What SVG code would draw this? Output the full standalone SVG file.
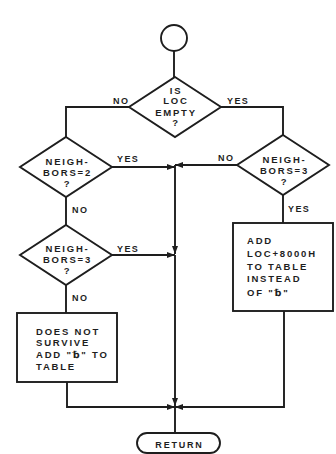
<svg xmlns="http://www.w3.org/2000/svg" width="336" height="454" viewBox="0 0 336 454">
<style>
.s{fill:none;stroke:#1e1e1e;stroke-width:1.9}
.t{font-family:"Liberation Sans","DejaVu Sans",sans-serif;font-size:9.5px;font-weight:bold;fill:#1e1e1e;letter-spacing:1.8px}
.c{text-anchor:middle}
.l{font-family:"Liberation Sans","DejaVu Sans",sans-serif;font-size:9px;font-weight:bold;fill:#1e1e1e;letter-spacing:1.4px}
</style>
<defs>
<marker id="a" viewBox="0 0 8 6" refX="8" refY="3" markerWidth="8" markerHeight="6" markerUnits="userSpaceOnUse" orient="auto">
<path d="M0,0 L8,3 L0,6 Z" fill="#1e1e1e"/>
</marker>
</defs>
<rect width="336" height="454" fill="#fff"/>
<g id="connectors">
<path class="s" d="M174,51 V77"/>
<path class="s" d="M129,107 H66 V137"/>
<path class="s" d="M221,107 H283 V135"/>
<path class="s" d="M112,167 H175" marker-end="url(#a)"/>
<path class="s" d="M237,165 H175" marker-end="url(#a)"/>
<path class="s" d="M175,165 V254" marker-end="url(#a)"/>
<path class="s" d="M66,197 V225"/>
<path class="s" d="M112,255 H175" marker-end="url(#a)"/>
<path class="s" d="M66,285 V313"/>
<path class="s" d="M283,195 V223"/>
<path class="s" d="M175,255 V406" marker-end="url(#a)"/>
<path class="s" d="M67,382 V407 H175" marker-end="url(#a)"/>
<path class="s" d="M284,311 V407 H175" marker-end="url(#a)"/>
<path class="s" d="M175,407 V433"/>
<text class="l" x="113" y="104">NO</text>
<text class="l" x="227" y="104">YES</text>
<text class="l" x="117" y="161.5">YES</text>
<text class="l" x="117" y="251.5">YES</text>
<text class="l" x="72" y="212.5">NO</text>
<text class="l" x="72" y="300.5">NO</text>
<text class="l" x="218" y="160.5">NO</text>
<text class="l" x="288" y="211.5">YES</text>
</g>
<g id="start">
<circle class="s" cx="174" cy="38" r="13"/>
</g>
<g id="loc-empty">
<polygon class="s" points="175,77 221,107 175,137 129,107"/>
<text class="t c" x="176" y="93.5">IS</text>
<text class="t c" x="176" y="104">LOC</text>
<text class="t c" x="176" y="115.5">EMPTY</text>
<text class="t c" x="176" y="126">?</text>
</g>
<g id="neighbors2">
<polygon class="s" points="66,137 112,167 66,197 20,167"/>
<text class="t c" x="67.5" y="164.5">NEIGH-</text>
<text class="t c" x="67.5" y="175.5">BORS=2</text>
<text class="t c" x="67.5" y="186.5">?</text>
</g>
<g id="neighbors3-left">
<polygon class="s" points="66,225 112,255 66,285 20,255"/>
<text class="t c" x="67.5" y="251.5">NEIGH-</text>
<text class="t c" x="67.5" y="262.5">BORS=3</text>
<text class="t c" x="67.5" y="274">?</text>
</g>
<g id="neighbors3-right">
<polygon class="s" points="283,135 329,165 283,195 237,165"/>
<text class="t c" x="284.5" y="162.5">NEIGH-</text>
<text class="t c" x="284.5" y="173.5">BORS=3</text>
<text class="t c" x="284.5" y="185">?</text>
</g>
<g id="does-not-survive">
<rect class="s" x="17" y="313" width="100" height="69"/>
<text class="t" x="36" y="334.5">DOES NOT</text>
<text class="t" x="36" y="345.5">SURVIVE</text>
<text class="t" x="36" y="357.5">ADD "␢" TO</text>
<text class="t" x="36" y="369.5">TABLE</text>
</g>
<g id="add-loc">
<rect class="s" x="233" y="223" width="100" height="88"/>
<text class="t" x="247" y="243.5">ADD</text>
<text class="t" x="247" y="256.5">LOC+8000H</text>
<text class="t" x="247" y="269.5">TO TABLE</text>
<text class="t" x="247" y="281.5">INSTEAD</text>
<text class="t" x="247" y="295.5">OF "␢"</text>
</g>
<g id="return">
<rect class="s" x="137" y="433" width="83" height="20" rx="10"/>
<text class="t c" x="179.5" y="447.5" style="font-size:9px">RETURN</text>
</g>
</svg>
